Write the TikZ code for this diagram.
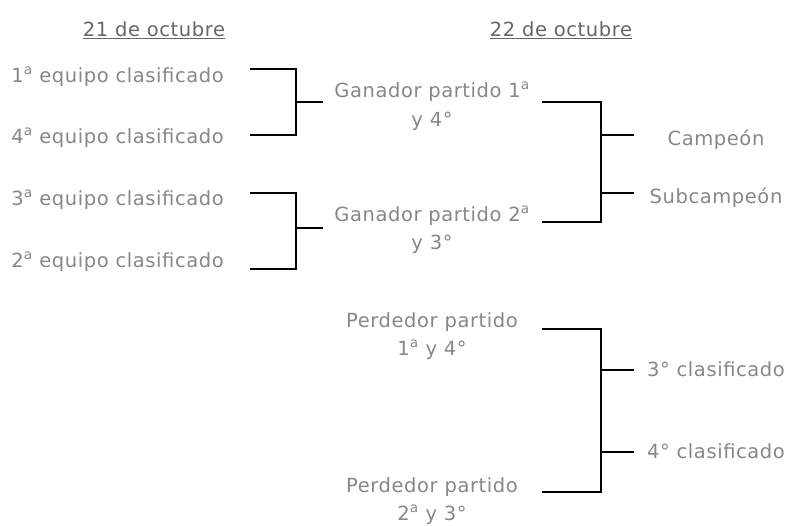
\documentclass[tikz,border=0pt]{standalone}
\usepackage{fontspec}
\setmainfont[LetterSpace=3]{DejaVu Sans}
\definecolor{txtgrey}{HTML}{878787}
\definecolor{headgrey}{HTML}{666666}
\newcommand\orda{\textsuperscript{a}}
\newcommand\ordo{°}
\tikzset{
  lbl/.style={inner sep=0pt, text=txtgrey, font=\fontsize{19.5}{23}\selectfont, anchor=base},
  lblleft/.style={lbl, anchor=base east},
  head/.style={inner sep=0pt, text=headgrey, font=\fontsize{19.5}{23}\selectfont, anchor=base},
  uline/.style={draw=headgrey, line width=1.5pt},
  bracket/.style={draw=black, line width=2pt, line cap=rect, line join=miter},
}
\begin{document}
\begin{tikzpicture}[x=1pt,y=-1pt]
\useasboundingbox (0,0) rectangle (786,525);

% headings
\node[head] (h1) at (154,36) {21 de octubre};
\node[head] (h2) at (561,36) {22 de octubre};
\draw[uline] ([yshift=-2.3pt]h1.base west) -- ([yshift=-2.3pt]h1.base east);
\draw[uline] ([yshift=-2.3pt]h2.base west) -- ([yshift=-2.3pt]h2.base east);

% left column
\node[lblleft] (e1) at (224,82) {1\orda{} equipo clasificado};
\node[lblleft] (e4) at (224,143) {4\orda{} equipo clasificado};
\node[lblleft] (e3) at (224,205) {3\orda{} equipo clasificado};
\node[lblleft] (e2) at (224,267) {2\orda{} equipo clasificado};

% middle column
\node[lbl] (g1a) at (432,97) {Ganador partido 1\orda};
\node[lbl] (g1b) at (432,126) {y 4\ordo};
\node[lbl] (g2a) at (432,221) {Ganador partido 2\orda};
\node[lbl] (g2b) at (432,249) {y 3\ordo};
\node[lbl] (p1a) at (432,327) {Perdedor partido};
\node[lbl] (p1b) at (432,355) {1\orda{} y 4\ordo};
\node[lbl] (p2a) at (432,492) {Perdedor partido};
\node[lbl] (p2b) at (432,520) {2\orda{} y 3\ordo};

% right column
\node[lbl] (camp) at (716,145) {Campeón};
\node[lbl] (sub) at (716,203) {Subcampeón};
\node[lbl] (c3) at (716,376) {3\ordo{} clasificado};
\node[lbl] (c4) at (716,458) {4\ordo{} clasificado};

% bracket coordinates
\coordinate (a1) at (251,69);
\coordinate (a2) at (251,135);
\coordinate (a3) at (251,193);
\coordinate (a4) at (251,269);
\coordinate (ja) at (296,102);
\coordinate (jb) at (296,228);
\coordinate (sa) at (322,102);
\coordinate (sb) at (322,228);

\coordinate (b1) at (543,102);
\coordinate (b2) at (543,222);
\coordinate (b3) at (543,329);
\coordinate (b4) at (543,492);
\coordinate (kc) at (601,135);
\coordinate (ks) at (601,193);
\coordinate (k3) at (601,370);
\coordinate (k4) at (601,452);
\coordinate (tc) at (633,135);
\coordinate (ts) at (633,193);
\coordinate (t3) at (633,370);
\coordinate (t4) at (633,452);

% brackets
\draw[bracket] (a1) -| (ja |- a2) -- (a2);
\draw[bracket] (ja) -- (sa);
\draw[bracket] (a3) -| (jb |- a4) -- (a4);
\draw[bracket] (jb) -- (sb);

\draw[bracket] (b1) -| (kc |- b2) -- (b2);
\draw[bracket] (kc) -- (tc);
\draw[bracket] (ks) -- (ts);

\draw[bracket] (b3) -| (k3 |- b4) -- (b4);
\draw[bracket] (k3) -- (t3);
\draw[bracket] (k4) -- (t4);
\end{tikzpicture}
\end{document}
